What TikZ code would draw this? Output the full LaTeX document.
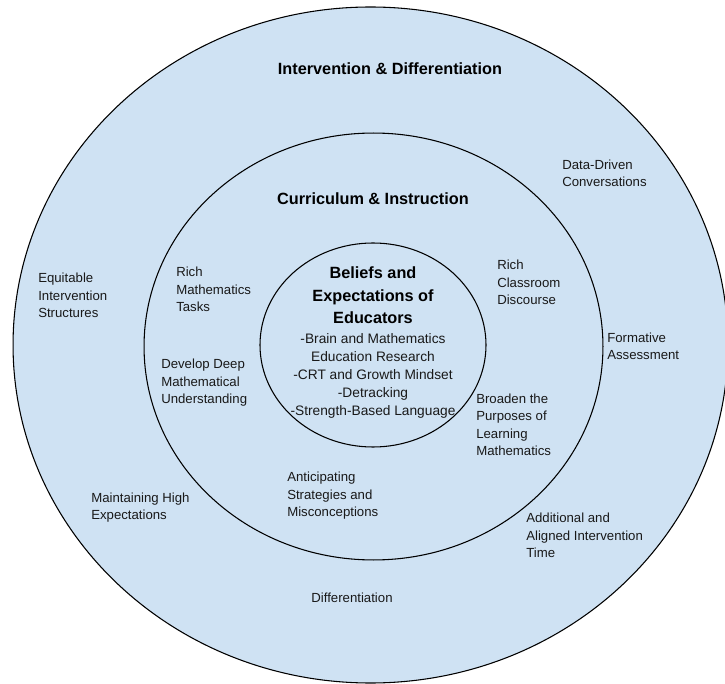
\documentclass[tikz,border=0pt]{standalone}
\usepackage{fontspec}
\setmainfont{Liberation Sans}
\definecolor{ringfill}{RGB}{207,226,243}
\begin{document}
\begin{tikzpicture}[x=0.75pt,y=-0.75pt,
  ring/.style={draw=black,line width=0.8pt,fill=ringfill},
  lbl/.style={anchor=base west,align=left,inner sep=0pt,text=black!90,font=\fontsize{9.9}{13.1}\selectfont},
  ttl/.style={anchor=base,align=center,inner sep=0pt,text=black,font=\bfseries\fontsize{12.2}{16.9}\selectfont},
  lst/.style={anchor=base,align=center,inner sep=0pt,text=black!90,font=\fontsize{10.3}{13.5}\selectfont}]
\useasboundingbox (0,0) rectangle (725,684);
\clip (0,0) rectangle (725,684);
\fill[white] (0,0) rectangle (725,684);
\draw[ring] (370.5,345) ellipse [x radius=268.1pt, y radius=253.5pt];
\draw[ring] (373.5,346.5) ellipse [x radius=172.1pt, y radius=160.1pt];
\draw[ring] (373,345) ellipse [x radius=84.75pt, y radius=76.5pt];
% titles (anchor = baseline of the last line)
\node[ttl] (t1) at (390,75) {Intervention \& Differentiation};
\node[ttl] (t2) at (373,205) {Curriculum \& Instruction};
\node[ttl] (t3) at (373,324) {Beliefs and\\Expectations of\\Educators};
\node[lst] (l3) at (373,415.7) {-Brain and Mathematics\\Education Research\\-CRT and Growth Mindset\\-Detracking\\-Strength-Based Language};
% outer ring labels
\node[lbl] (dd) at (562,186.5) {Data-Driven\\Conversations};
\node[lbl] (eq) at (38,317.5) {Equitable\\Intervention\\Structures};
\node[lbl] (fa) at (607,359.5) {Formative\\Assessment};
\node[lbl] (mh) at (91,519.5) {Maintaining High\\Expectations};
\node[lbl] (ad) at (526,557.5) {Additional and\\Aligned Intervention\\Time};
\node[lbl,anchor=base] (df) at (352,602.5) {Differentiation};
% middle ring labels
\node[lbl] (rm) at (176,311.5) {Rich\\Mathematics\\Tasks};
\node[lbl] (rc) at (497,304.5) {Rich\\Classroom\\Discourse};
\node[lbl] (dm) at (161,403.5) {Develop Deep\\Mathematical\\Understanding};
\node[lbl] (bp) at (476,455.5) {Broaden the\\Purposes of\\Learning\\Mathematics};
\node[lbl] (as) at (287,516.5) {Anticipating\\Strategies and\\Misconceptions};
\end{tikzpicture}
\end{document}
